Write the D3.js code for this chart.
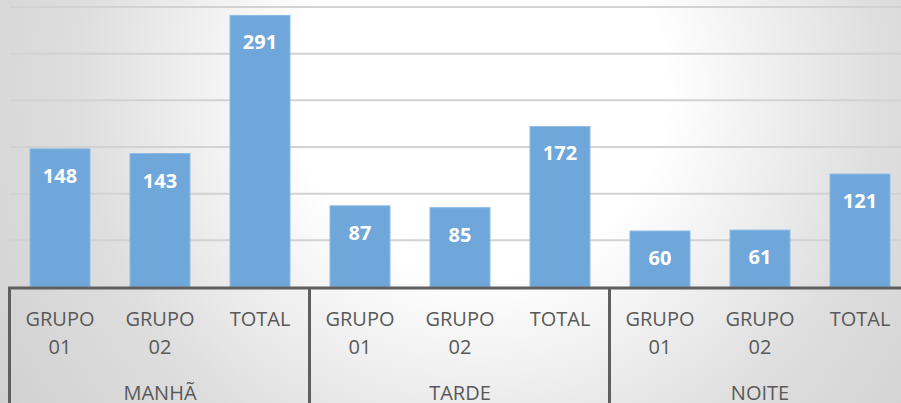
<!DOCTYPE html>
<html>
<head>
<meta charset="utf-8">
<script src="https://cdn.jsdelivr.net/npm/d3@7"></script>
<style>
	html, body { margin: 0; padding: 0; background: #fff; }
	svg { display: block; }
</style>
</head>
<body>
<div id="chart"></div>
<script>
// data
var periods = ["MANHÃ", "TARDE", "NOITE"];
var groups = [["GRUPO", "01"], ["GRUPO", "02"], ["TOTAL"]];
var manha = [148, 143, 291];
var tarde = [87, 85, 172];
var noite = [60, 61, 121];
var yTicks = [0, 50, 100, 150, 200, 250, 300];

var width = 901;
var height = 403;

var series = [manha, tarde, noite];
var rows = [];
periods.forEach(function(p, i) {
	groups.forEach(function(g, j) {
		rows.push({ key: p + "-" + j, period: p, label: g, value: series[i][j] });
	});
});

var svg = d3.select("#chart")
	.append("svg")
	.attr("width", width)
	.attr("height", height);

var defs = svg.append("defs");
var grad = defs.append("radialGradient")
	.attr("id", "bg")
	.attr("gradientUnits", "userSpaceOnUse")
	.attr("cx", 480).attr("cy", 90).attr("r", 620);
grad.append("stop").attr("offset", 0).attr("stop-color", "#ffffff");
grad.append("stop").attr("offset", 0.3).attr("stop-color", "#ffffff");
grad.append("stop").attr("offset", 0.65).attr("stop-color", "#dedede");
grad.append("stop").attr("offset", 1).attr("stop-color", "#cdcdcd");

svg.append("rect")
	.attr("width", width)
	.attr("height", height)
	.attr("fill", "url(#bg)");

var x = d3.scaleBand()
	.domain(rows.map(function(d) { return d.key; }))
	.range([10, 910])
	.paddingInner(0.4)
	.paddingOuter(0.2);

var y = d3.scaleLinear()
	.domain([0, 300])
	.range([287, 7]);

// gridlines
svg.append("g")
	.selectAll("line")
	.data(yTicks.slice(1))
	.enter()
	.append("line")
	.attr("x1", 10)
	.attr("x2", width)
	.attr("y1", function(d) { return y(d); })
	.attr("y2", function(d) { return y(d); })
	.attr("stroke", "#d2d2d2")
	.attr("stroke-width", 2);

// bars
svg.append("g")
	.selectAll("rect")
	.data(rows)
	.enter()
	.append("rect")
	.attr("x", function(d) { return x(d.key); })
	.attr("y", function(d) { return y(d.value); })
	.attr("width", x.bandwidth())
	.attr("height", function(d) { return y(0) - y(d.value); })
	.attr("fill", "#6fa7db")
	.attr("stroke", "#8dbbe5")
	.attr("stroke-width", 1);

// value labels
svg.append("g")
	.selectAll("text")
	.data(rows)
	.enter()
	.append("text")
	.attr("x", function(d) { return x(d.key) + x.bandwidth() / 2; })
	.attr("y", function(d) { return y(d.value) + 34; })
	.attr("text-anchor", "middle")
	.attr("font-family", "'Open Sans', sans-serif")
	.attr("font-weight", "bold")
	.attr("font-size", 20)
	.attr("fill", "#ffffff")
	.text(function(d) { return d.value; });

// axis box
var axisColor = "#5f5f5f";
svg.append("line")
	.attr("x1", 8).attr("x2", 910)
	.attr("y1", y(0) + 1).attr("y2", y(0) + 1)
	.attr("stroke", axisColor)
	.attr("stroke-width", 3);

var periodWidth = x.step() * groups.length;
svg.append("g")
	.selectAll("line")
	.data(periods)
	.enter()
	.append("line")
	.attr("x1", function(d, i) { return 10 + i * periodWidth - 0.5; })
	.attr("x2", function(d, i) { return 10 + i * periodWidth - 0.5; })
	.attr("y1", y(0))
	.attr("y2", height)
	.attr("stroke", axisColor)
	.attr("stroke-width", 3);

// sub category labels
var sub = svg.append("g")
	.selectAll("text")
	.data(rows)
	.enter()
	.append("text")
	.attr("text-anchor", "middle")
	.attr("font-family", "'Open Sans', sans-serif")
	.attr("font-size", 20)
	.attr("fill", "#595959");

sub.selectAll("tspan")
	.data(function(d) {
		return d.label.map(function(t, k) { return { t: t, k: k, cx: x(d.key) + x.bandwidth() / 2 }; });
	})
	.enter()
	.append("tspan")
	.attr("x", function(d) { return d.cx; })
	.attr("y", function(d) { return 326 + d.k * 28; })
	.text(function(d) { return d.t; });

// period labels
svg.append("g")
	.selectAll("text")
	.data(periods)
	.enter()
	.append("text")
	.attr("x", function(d, i) { return 10 + i * periodWidth + periodWidth / 2; })
	.attr("y", 400)
	.attr("text-anchor", "middle")
	.attr("font-family", "'Open Sans', sans-serif")
	.attr("font-size", 20)
	.attr("fill", "#595959")
	.text(function(d) { return d; });
</script>
</body>
</html>
